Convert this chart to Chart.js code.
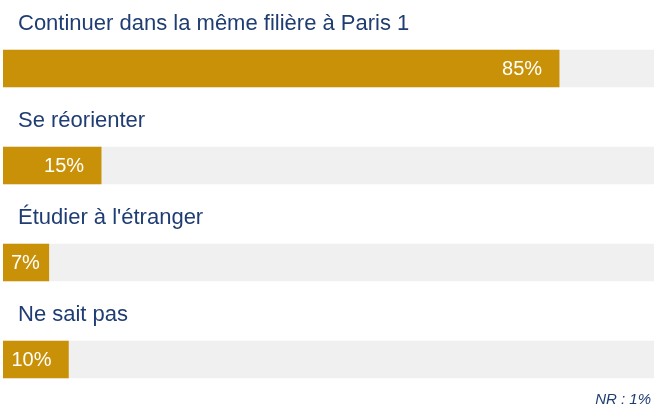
<!DOCTYPE html>
<html>
<head>
<meta charset="utf-8">
<script src="https://cdn.jsdelivr.net/npm/chart.js@4"></script>
<style>
  html, body { margin: 0; padding: 0; background: #fff; }
  #wrap { width: 654px; height: 410px; }
</style>
</head>
<body>
<div id="wrap"><canvas id="chart1"></canvas></div>
<script>
// Categories and percentages
const categories = [
  "Continuer dans la même filière à Paris 1",
  "Se réorienter",
  "Étudier à l'étranger",
  "Ne sait pas",
];
const values = [85, 15, 7, 10];
const nrLabel = "NR : 1%";

const axisMax = 99.5;
const track = categories.map(() => axisMax);

const FONT = "'Liberation Sans', Arial, sans-serif";
const BLUE = "#1f3d73";
const GOLD = "#c89108";

// Draws category labels above bars, values inside bars and the NR note
const labelPlugin = {
  id: "labels",
  afterDatasetsDraw(chart) {
    const ctx = chart.ctx;
    const meta = chart.getDatasetMeta(0);
    ctx.save();
    meta.data.forEach((bar, i) => {
      const top = bar.y - bar.height / 2;
      ctx.font = "22px " + FONT;
      ctx.fillStyle = BLUE;
      ctx.textAlign = "left";
      ctx.textBaseline = "alphabetic";
      ctx.fillText(categories[i], 18, top - 20);

      const txt = values[i] + "%";
      ctx.font = "20px " + FONT;
      const w = ctx.measureText(txt).width;
      let x = bar.x - 17 - w;
      if (x < bar.base + 8) x = bar.base + 8;
      ctx.fillStyle = "#ffffff";
      ctx.textBaseline = "middle";
      ctx.fillText(txt, x, bar.y + 1);
    });
    ctx.font = "italic 15px " + FONT;
    ctx.fillStyle = BLUE;
    ctx.textAlign = "right";
    ctx.textBaseline = "alphabetic";
    ctx.fillText(nrLabel, 651, 404);
    ctx.restore();
  },
};

const config1 = {
  type: "bar",
  data: {
    labels: categories,
    datasets: [
      {
        data: values,
        backgroundColor: GOLD,
        barThickness: 37,
        grouped: false,
        order: 1,
      },
      {
        data: track,
        backgroundColor: "#f0f0f0",
        barThickness: 37,
        grouped: false,
        order: 2,
      },
    ],
  },
  options: {
    indexAxis: "y",
    responsive: true,
    maintainAspectRatio: false,
    animation: false,
    layout: { padding: { top: 20, bottom: 2, left: 3, right: 0 } },
    scales: {
      x: { display: false, min: 0, max: axisMax },
      y: { display: false },
    },
    plugins: {
      legend: { display: false },
      tooltip: { enabled: false },
    },
  },
  plugins: [labelPlugin],
};

const barChart = new Chart(document.getElementById("chart1"), config1);
</script>
</body>
</html>
